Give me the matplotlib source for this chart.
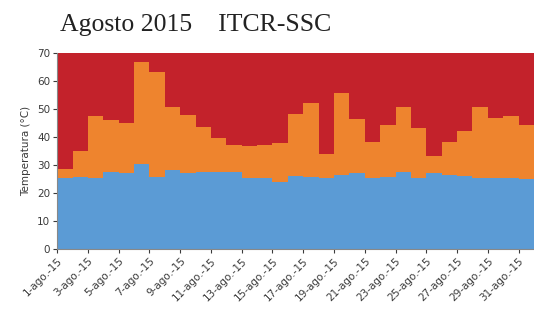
import numpy as np
import matplotlib
matplotlib.use("Agg")
import matplotlib.pyplot as plt

# Daily temperatures, August 2015
days = list(range(1, 32))
t_min = [25.2, 25.8, 25.5, 27.6, 27.2, 30.5, 25.6, 28.1, 27.2, 27.5, 27.6, 27.6, 25.2, 25.2, 24.0, 26.1,
         25.8, 25.4, 26.3, 27.0, 25.2, 25.7, 27.5, 25.4, 27.0, 26.4, 26.0, 25.2, 25.2, 25.2, 25.0]
t_max = [28.5, 34.9, 47.5, 46.0, 45.0, 66.8, 63.2, 50.8, 47.9, 43.5, 39.7, 37.2, 36.8, 37.2, 37.7, 48.2,
         52.2, 33.9, 55.7, 46.4, 38.3, 44.2, 50.7, 43.1, 33.1, 38.3, 42.0, 50.7, 46.7, 47.4, 44.4]
y_top = 70
tick_days = days[::2]
tick_labels = [f"{d}-ago.-15" for d in tick_days]

t_min = np.array(t_min)
t_max = np.array(t_max)
x = np.arange(len(days))

fig = plt.figure(figsize=(5.34, 3.16), dpi=100)
ax = fig.add_axes([0.107, 0.212, 0.893, 0.62])

ax.bar(x, t_min, width=1.0, align="edge", color="#5b9bd5", linewidth=0)
ax.bar(x, t_max - t_min, bottom=t_min, width=1.0, align="edge", color="#ee842e", linewidth=0)
ax.bar(x, y_top - t_max, bottom=t_max, width=1.0, align="edge", color="#c3222b", linewidth=0)

ax.set_xlim(0, len(days))
ax.set_ylim(0, y_top)
ax.set_yticks(range(0, 71, 10))
ax.set_xticks([d - 1 for d in tick_days])
ax.set_xticklabels(tick_labels, rotation=45, ha="right", rotation_mode="anchor")
ax.tick_params(axis="both", labelsize=7.5, colors="#3a3a3a", length=3, pad=2)
ax.set_ylabel("Temperatura (°C)", fontsize=7.5, color="#3a3a3a", labelpad=4)

for s in ["top", "right"]:
    ax.spines[s].set_visible(False)
for s in ["left", "bottom"]:
    ax.spines[s].set_color("#888888")

fig.text(0.113, 0.92, "Agosto 2015    ITCR-SSC", fontsize=18.5, family="Liberation Serif",
         color="#222222", va="center")

fig.savefig("out.png", dpi=100)
